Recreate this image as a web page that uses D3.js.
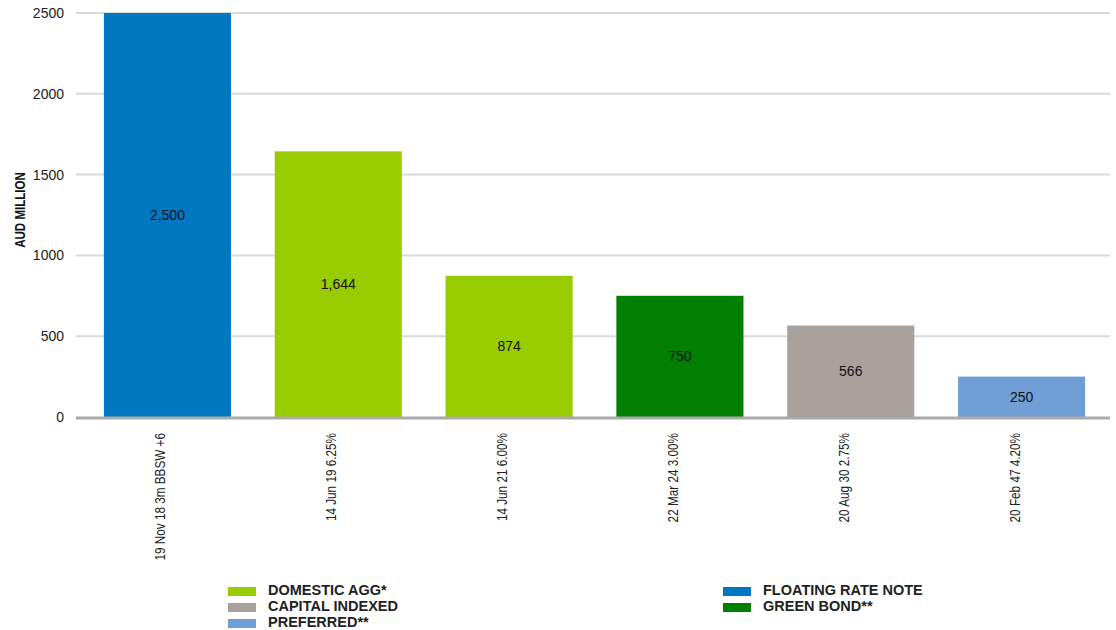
<!DOCTYPE html>
<html>
<head>
<meta charset="utf-8">
<script src="https://cdn.jsdelivr.net/npm/d3@7"></script>
<style>
  html, body { margin: 0; padding: 0; background: #fff; }
  svg { display: block; }
  .narrow { font-family: "Liberation Sans Narrow", "Arial Narrow", "Liberation Sans", Arial, sans-serif; }
  .reg { font-family: "Liberation Sans", Arial, sans-serif; }
</style>
</head>
<body>
<svg id="chart" width="1116" height="630"></svg>
<script>
// Bond lines on issue, AUD million
const bonds = ["19 Nov 18 3m BBSW +6", "14 Jun 19 6.25%", "14 Jun 21 6.00%", "22 Mar 24 3.00%", "20 Aug 30 2.75%", "20 Feb 47 4.20%"];
const amounts = [2500, 1644, 874, 750, 566, 250];
const bondTypes = ["FLOATING RATE NOTE", "DOMESTIC AGG*", "DOMESTIC AGG*", "GREEN BOND**", "CAPITAL INDEXED", "PREFERRED**"];
const yTicks = [0, 500, 1000, 1500, 2000, 2500];
const legendLeft = ["DOMESTIC AGG*", "CAPITAL INDEXED", "PREFERRED**"];
const legendRight = ["FLOATING RATE NOTE", "GREEN BOND**"];

const typeColor = d3.scaleOrdinal()
  .domain(["FLOATING RATE NOTE", "DOMESTIC AGG*", "GREEN BOND**", "CAPITAL INDEXED", "PREFERRED**"])
  .range(["#0077c1", "#99cc00", "#007f00", "#a9a19c", "#6f9fd4"]);

const svg = d3.select("#chart");

const x = d3.scaleBand().domain(bonds).range([82, 1107]).paddingInner(0.256).paddingOuter(0.128);
const y = d3.scaleLinear().domain([0, 2500]).range([417, 13]);

// horizontal gridlines
svg.append("g")
  .selectAll("line")
  .data(yTicks.filter(d => d > 0))
  .join("line")
  .attr("x1", 76).attr("x2", 1110)
  .attr("y1", d => y(d)).attr("y2", d => y(d))
  .attr("stroke", "#d9d9d9").attr("stroke-width", 2);

// y axis labels
const yAxis = svg.append("g")
  .attr("transform", "translate(76,0)")
  .call(d3.axisLeft(y).tickValues(yTicks).tickSize(0).tickPadding(12).tickFormat(d3.format("d")));
yAxis.select(".domain").remove();
yAxis.selectAll("text")
  .attr("class", "reg")
  .style("font-size", "14px")
  .attr("fill", "#222");

// axis title (condensed bold)
svg.append("text")
  .attr("class", "narrow")
  .attr("transform", "translate(25,210) rotate(-90) scale(0.77,1)")
  .attr("text-anchor", "middle")
  .style("font-size", "15px")
  .style("font-weight", "bold")
  .attr("fill", "#111")
  .text("AUD MILLION");

// bars
svg.append("g")
  .selectAll("rect")
  .data(bonds)
  .join("rect")
  .attr("x", d => x(d))
  .attr("width", x.bandwidth())
  .attr("y", (d, i) => y(amounts[i]))
  .attr("height", (d, i) => y(0) - y(amounts[i]))
  .attr("fill", (d, i) => typeColor(bondTypes[i]));

// value labels
svg.append("g")
  .selectAll("text")
  .data(bonds)
  .join("text")
  .attr("class", "reg")
  .attr("x", d => x(d) + x.bandwidth() / 2)
  .attr("y", (d, i) => (y(amounts[i]) + y(0)) / 2)
  .attr("dy", "0.35em")
  .attr("text-anchor", "middle")
  .style("font-size", "14px")
  .attr("fill", "#111")
  .text((d, i) => d3.format(",")(amounts[i]));

// baseline
svg.append("line")
  .attr("x1", 76).attr("x2", 1110)
  .attr("y1", y(0) + 1).attr("y2", y(0) + 1)
  .attr("stroke", "#aaaaaa").attr("stroke-width", 3);

// category labels, rotated and condensed
const xAxis = svg.append("g")
  .attr("transform", `translate(0,${y(0)})`)
  .call(d3.axisBottom(x).tickSize(0).tickPadding(0));
xAxis.select(".domain").remove();
xAxis.selectAll("text")
  .attr("class", "narrow")
  .style("font-size", "14.5px")
  .attr("fill", "#222")
  .attr("text-anchor", "end")
  .attr("transform", "translate(-7,16) rotate(-90) scale(0.81,1)")
  .attr("dy", "0.35em")
  .attr("y", 0)
  .attr("x", 0);

// legend
function legendColumn(items, x0) {
  const g = svg.append("g");
  const row = g.selectAll("g").data(items).join("g")
    .attr("transform", (d, i) => `translate(${x0},${590 + i * 16})`);
  row.append("rect")
    .attr("x", 0).attr("y", -3)
    .attr("width", 28).attr("height", 9)
    .attr("fill", d => typeColor(d));
  row.append("text")
    .attr("class", "narrow")
    .attr("x", 40).attr("y", 0)
    .attr("dy", "0.35em")
    .style("font-size", "14.5px")
    .style("font-weight", "bold")
    .attr("fill", "#222")
    .text(d => d);
}
legendColumn(legendLeft, 228);
legendColumn(legendRight, 723);
</script>
</body>
</html>
